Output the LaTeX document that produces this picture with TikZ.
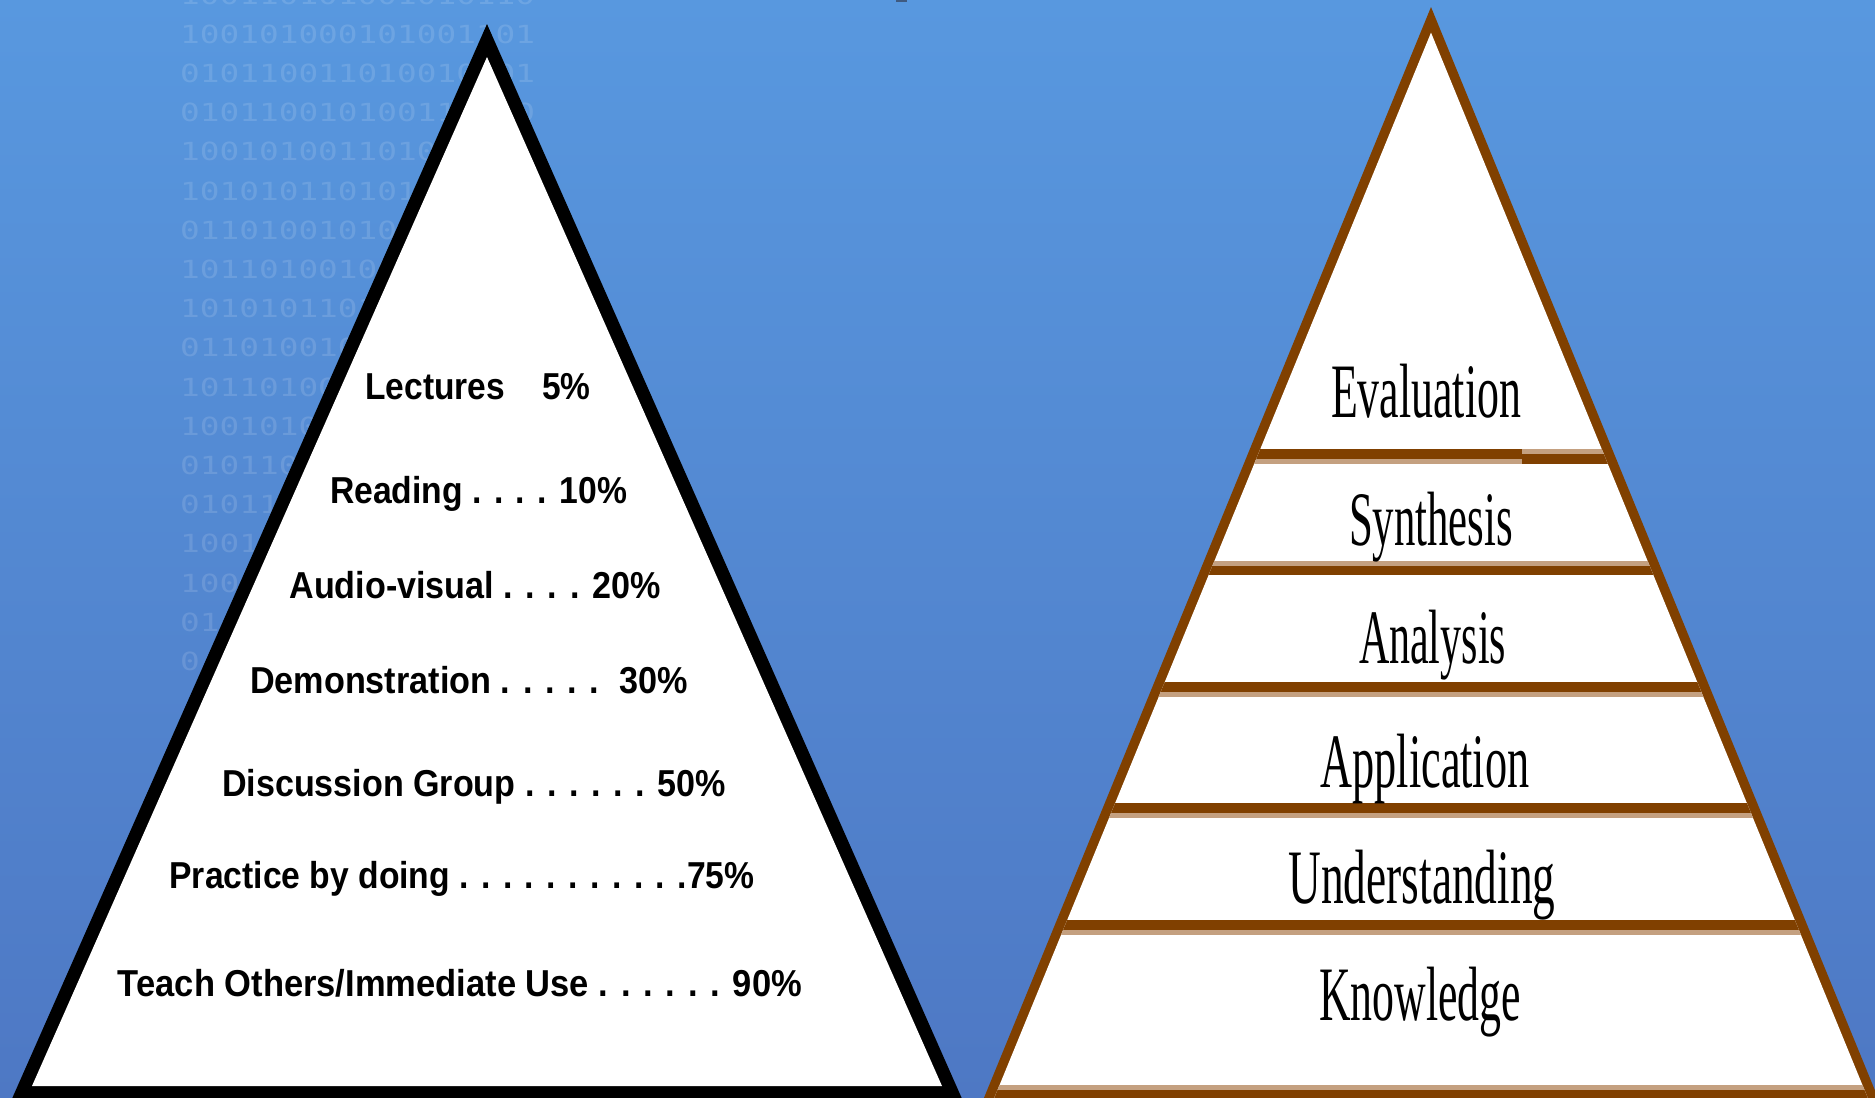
\documentclass[tikz,border=0pt]{standalone}
\usepackage{fontspec}
\usepackage{graphicx}
\setmainfont{Liberation Serif}
\newfontfamily\lsans{Liberation Sans}
\newfontfamily\lserif{Liberation Serif}
\newfontfamily\lmono{DejaVu Sans Mono}
\definecolor{bgtop}{HTML}{5898DF}
\definecolor{bgbot}{HTML}{4E78C4}
\definecolor{brownline}{HTML}{804000}
\definecolor{tanline}{HTML}{C4A080}
\definecolor{markcol}{HTML}{3F5A80}
\newlength\fitlen
\newcommand\fitto[2]{\settowidth\fitlen{#2}\pgfmathsetmacro\fitr{(#1)/\fitlen}\scalebox{\fitr}[1]{#2}}
\newcommand\binrow[2]{\fitto{#1*19.72}{#2}}
\begin{document}
\begin{tikzpicture}[x=1pt,y=-1pt,
  lab/.style={font=\lsans\bfseries\fontsize{37.5}{40}\selectfont, inner sep=0pt, anchor=base, text=black},
  rlab/.style={font=\lserif\fontsize{77}{80}\selectfont, inner sep=0pt, anchor=base, text=black},
  bin/.style={font=\lmono\fontsize{25}{28}\selectfont, inner sep=0pt, anchor=base west, text=white, text opacity=0.13}]
\useasboundingbox (0,0) rectangle (1875,1098);
\shade[top color=bgtop, bottom color=bgbot] (0,0) rectangle (1875,1098);
% binary background
\node[bin] (b0) at (180,4) {\binrow{18}{100110101001010110}};
\node[bin] (b1) at (180,43.2) {\binrow{18}{100101000101001101}};
\node[bin] (b2) at (180,82.4) {\binrow{18}{010110011010010001}};
\node[bin] (b3) at (180,121.6) {\binrow{18}{010110010100110010}};
\node[bin] (b4) at (180,160.8) {\binrow{13}{1001010011010}};
\node[bin] (b5) at (180,200) {\binrow{12}{101010110101}};
\node[bin] (b6) at (180,239.2) {\binrow{11}{01101001010}};
\node[bin] (b7) at (180,278.4) {\binrow{11}{10110100100}};
\node[bin] (b8) at (180,317.6) {\binrow{10}{1010101101}};
\node[bin] (b9) at (180,356.8) {\binrow{9}{011010010}};
\node[bin] (b10) at (180,396) {\binrow{8}{10110100}};
\node[bin] (b11) at (180,435.2) {\binrow{7}{1001010}};
\node[bin] (b12) at (180,474.4) {\binrow{6}{010110}};
\node[bin] (b13) at (180,513.6) {\binrow{5}{01011}};
\node[bin] (b14) at (180,552.8) {\binrow{4}{1001}};
\node[bin] (b15) at (180,592) {\binrow{3}{100}};
\node[bin] (b16) at (180,631.2) {\binrow{2}{01}};
\node[bin] (b17) at (180,670.4) {\binrow{1}{0}};
% small mark at top
\fill[markcol] (896,0) rectangle (907,2);
% left triangle
\fill[black] (487,24) -- (967,1110) -- (7,1110) -- cycle;
\fill[white] (487,57) -- (942,1086) -- (32,1086) -- cycle;
\node[lab] (l1) at (478,399) {\fitto{225}{Lectures\hspace{1.1em}5\%}};
\node[lab] (l2) at (478.5,503) {\fitto{297}{Reading . . . . 10\%}};
\node[lab] (l3) at (475,598) {\fitto{371}{Audio-visual . . . . 20\%}};
\node[lab] (l4) at (469,693) {\fitto{438}{Demonstration . . . . .\hspace{0.6em}30\%}};
\node[lab] (l5) at (474,796) {\fitto{504}{Discussion Group . . . . . . 50\%}};
\node[lab] (l6) at (462,888) {\fitto{585}{Practice by doing . . . . . . . . . . .75\%}};
\node[lab] (l7) at (460,996) {\fitto{684}{Teach Others/Immediate Use . . . . . . 90\%}};
% right triangle
\fill[brownline] (1431,7) -- (1883,1110) -- (979,1110) -- cycle;
\begin{scope}
\clip (1431,32.6) -- (1872.7,1110) -- (989.3,1110) -- cycle;
\fill[white] (950,0) rectangle (1900,1110);
\fill[brownline] (950,449) rectangle (1522,459);
\fill[tanline] (950,459) rectangle (1522,464);
\fill[tanline] (1522,449) rectangle (1900,454);
\fill[brownline] (1522,454) rectangle (1900,464);
\fill[tanline] (950,561) rectangle (1900,566);
\fill[brownline] (950,566) rectangle (1900,575);
\fill[brownline] (950,682) rectangle (1900,692);
\fill[tanline] (950,692) rectangle (1900,697);
\fill[brownline] (950,803) rectangle (1900,813);
\fill[tanline] (950,813) rectangle (1900,818);
\fill[brownline] (950,920) rectangle (1900,930);
\fill[tanline] (950,930) rectangle (1900,935);
\fill[tanline] (950,1085) rectangle (1900,1090);
\fill[brownline] (950,1090) rectangle (1900,1110);
\end{scope}
\node[rlab] (r1) at (1426,417) {\fitto{190}{Evaluation}};
\node[rlab] (r2) at (1431,545) {\fitto{164}{Synthesis}};
\node[rlab] (r3) at (1432.5,663) {\fitto{147}{Analysis}};
\node[rlab] (r4) at (1425,787) {\fitto{209}{Application}};
\node[rlab] (r5) at (1422,903) {\fitto{267}{Understanding}};
\node[rlab] (r6) at (1420,1020) {\fitto{202}{Knowledge}};
\end{tikzpicture}
\end{document}
